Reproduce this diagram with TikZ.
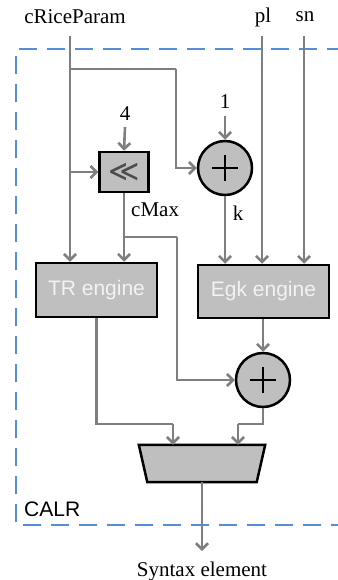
\documentclass[tikz,border=0pt]{standalone}
\usepackage{fontspec}
\setmainfont{Liberation Serif}
\setsansfont{Liberation Sans}
\newfontfamily\symfont{DejaVu Sans}
\usetikzlibrary{arrows.meta}
\definecolor{lgray}{HTML}{7F7F7F}
\definecolor{bfill}{HTML}{BFBFBF}
\definecolor{dblue}{HTML}{558ED5}
\definecolor{etext}{HTML}{F2F2F2}
\begin{document}
\begin{tikzpicture}[x=1pt,y=-1pt,
  conn/.style={draw=lgray,line width=2.6pt},
  arr/.style={conn,-{Straight Barb[length=6pt,width=12pt,line width=2.6pt]}},
  lbl/.style={font=\fontsize{21}{24}\selectfont,inner sep=0pt},
  engine/.style={draw=black,line width=2.5pt,fill=bfill,text=etext,font=\sffamily\fontsize{21}{24}\selectfont,inner sep=0pt},
  adder/.style={circle,draw=black,line width=2.5pt,fill=bfill,minimum size=54pt,inner sep=0pt,
    path picture={\draw[black,line width=1.4pt]
      ([xshift=-13pt]path picture bounding box.center) -- ([xshift=13pt]path picture bounding box.center)
      ([yshift=-13pt]path picture bounding box.center) -- ([yshift=13pt]path picture bounding box.center);}},
  calr/.style={draw=dblue,line width=2.4pt,dash pattern=on 18pt off 10pt}
]
\useasboundingbox (0,0) rectangle (337,580);
% dashed CALR boundary
\draw[calr] (345,49) -- (16,49) -- (16,525) -- (345,525);
\node[font=\sffamily\fontsize{21}{24}\selectfont,inner sep=0pt,anchor=west] (calrl) at (24,509) {CALR};

% labels
\node[lbl] (crp) at (75,17) {cRiceParam};
\node[lbl] (pl) at (263,17) {pl};
\node[lbl] (sn) at (305,17) {sn};
\node[lbl] (four) at (125,114) {4};
\node[lbl] (one) at (225,102) {1};
\node[lbl,anchor=west] (cmax) at (131,210) {cMax};
\node[lbl] (k) at (238,213) {k};
\node[lbl] (syn) at (202,571) {Syntax element};

\coordinate (crpTop) at (70,36);
\coordinate (plTop) at (262,36);
\coordinate (snTop) at (304,36);
\coordinate (synIn) at (202,551);

% blocks
\node[draw=black,line width=2.5pt,fill=bfill,minimum width=49pt,minimum height=40pt,inner sep=0pt,
  text=black!70,font=\symfont\fontsize{30}{30}\selectfont] (shift) at (124,172) {≪};
\node[adder] (add1) at (225,168) {};
\node[engine,minimum width=121pt,minimum height=54pt] (tr) at (96.5,290) {TR engine};
\node[engine,minimum width=131pt,minimum height=53pt] (egk) at (263.5,291.5) {Egk engine};
\node[adder] (add2) at (263,380) {};
\node[minimum width=126pt,minimum height=37pt,inner sep=0pt] (mux) at (202,463.5) {};
\draw[black,line width=2.5pt,fill=bfill,line join=miter] (mux.north west) -- (mux.north east)
  -- ([xshift=-8.5pt]mux.south east) -- ([xshift=8.5pt]mux.south west) -- cycle;

% connectors
\coordinate (b1) at (70,69);
\coordinate (b2) at (176,69);
\coordinate (c1) at (124,237);
\coordinate (c2) at (177,237);
\coordinate (jl) at (173,424);
\coordinate (jr) at (238,424);

\draw[arr] (crpTop) -- (crpTop |- tr.north);
\draw[conn] (b1) -- (b2);
\draw[arr] (b2) |- (add1.west);
\draw[arr] (crpTop |- shift.west) -- (shift.west);
\draw[arr] (four) ++(0,13) -- (shift.north);
\draw[arr] (one) ++(0,14) -- (add1.north);
\draw[arr] (shift.south) -- (shift.south |- tr.north);
\draw[conn] (c1) -- (c2);
\draw[arr] (c2) |- (add2.west);
\draw[arr] (add1.south) -- (add1.south |- egk.north);
\draw[arr] (plTop) -- (plTop |- egk.north);
\draw[arr] (snTop) -- (snTop |- egk.north);
\draw[arr] (add2 |- egk.south) -- (add2.north);
\draw[conn] (tr.south) |- (jl);
\draw[arr] (jl) -- (jl |- mux.north);
\draw[conn] (add2.south) |- (jr);
\draw[arr] (jr) -- (jr |- mux.north);
\draw[arr] (mux.south) -- (synIn);
\end{tikzpicture}
\end{document}
